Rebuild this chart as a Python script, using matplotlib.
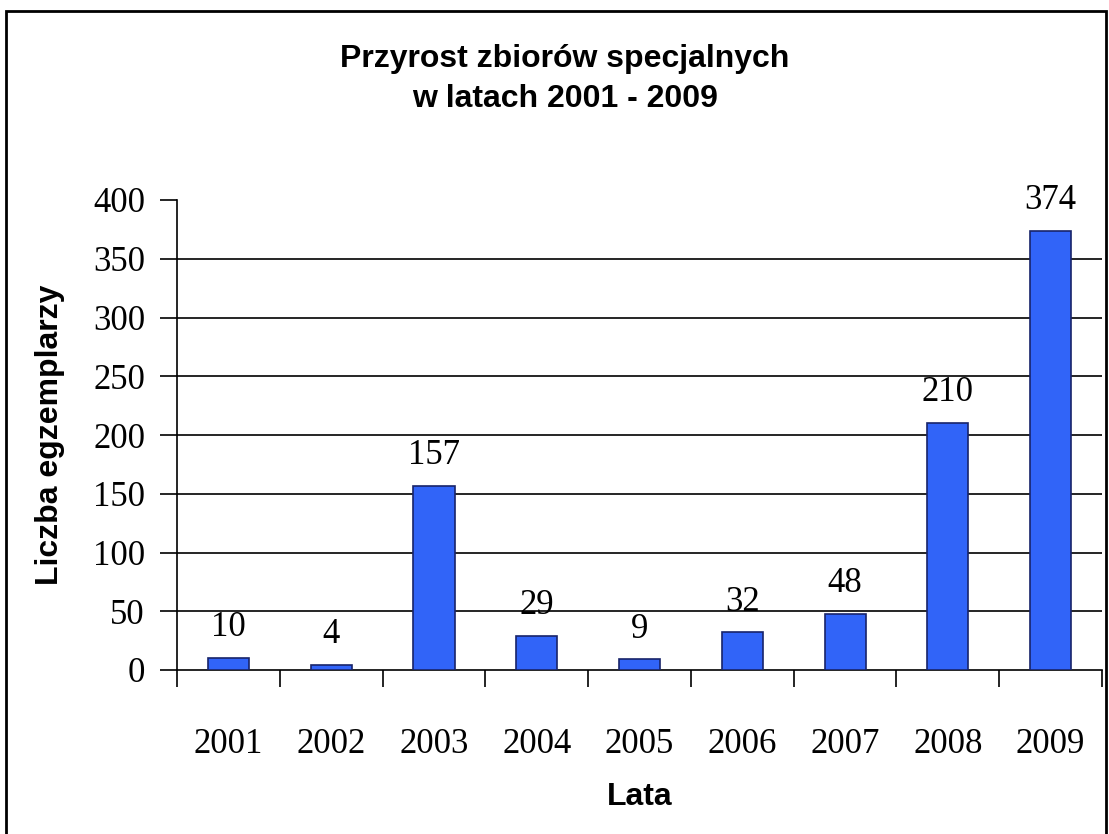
import numpy as np
import matplotlib.pyplot as plt
from matplotlib.patches import Rectangle

years = ['2001', '2002', '2003', '2004', '2005', '2006', '2007', '2008', '2009']
counts = [10, 4, 157, 29, 9, 32, 48, 210, 374]
yticks = [0, 50, 100, 150, 200, 250, 300, 350, 400]

serif = 'Liberation Serif'
sans = 'Liberation Sans'

fig = plt.figure(figsize=(11.09, 8.34), dpi=100)
fig.patch.set_facecolor('white')

# outer frame of the chart
fig.patches.append(Rectangle((6 / 1109, -0.01), 1100 / 1109, 1 - 11 / 834 + 0.01,
                             transform=fig.transFigure, fill=False,
                             edgecolor='black', linewidth=2))

ax = fig.add_axes([177 / 1109, 1 - 670 / 834, (1102 - 177) / 1109, (670 - 200) / 834])

x = np.arange(len(years))
ax.bar(x, counts, width=0.4, color='#3164F8', edgecolor='#18246A', linewidth=1.2, zorder=3)

for xi, v in zip(x, counts):
    ax.annotate(str(v), (xi, v), xytext=(0, 10), textcoords='offset points',
                ha='center', va='bottom', fontsize=25, family=serif, color='black')

ax.set_xlim(-0.5, len(years) - 0.5)
ax.set_ylim(0, 400)

ax.set_yticks(yticks)
ax.set_yticklabels([str(t) for t in yticks], fontsize=25, family=serif)
for t in yticks[1:-1]:
    ax.axhline(t, color='black', linewidth=1.2, zorder=1)

ax.set_xticks(x)
ax.set_xticklabels(years, fontsize=25, family=serif)
ax.set_xticks(np.arange(len(years) + 1) - 0.5, minor=True)
ax.tick_params(axis='x', which='major', length=0, pad=42)
ax.tick_params(axis='x', which='minor', length=12, width=1.2, direction='out')
ax.tick_params(axis='y', length=12, width=1.2, direction='out', pad=11)

for side in ['top', 'right']:
    ax.spines[side].set_visible(False)
ax.spines['left'].set_linewidth(1.2)
ax.spines['bottom'].set_linewidth(1.2)

ax.set_ylabel('Liczba egzemplarzy', fontsize=23, family=sans, fontweight='bold', labelpad=20)
ax.set_xlabel('Lata', fontsize=23, family=sans, fontweight='bold', labelpad=15)

fig.text(565 / 1109, 1 - 79 / 834, 'Przyrost zbiorów specjalnych\nw latach 2001 - 2009',
         ha='center', va='center', fontsize=23, family=sans, fontweight='bold',
         linespacing=1.45)

fig.savefig('out.png', dpi=100)
